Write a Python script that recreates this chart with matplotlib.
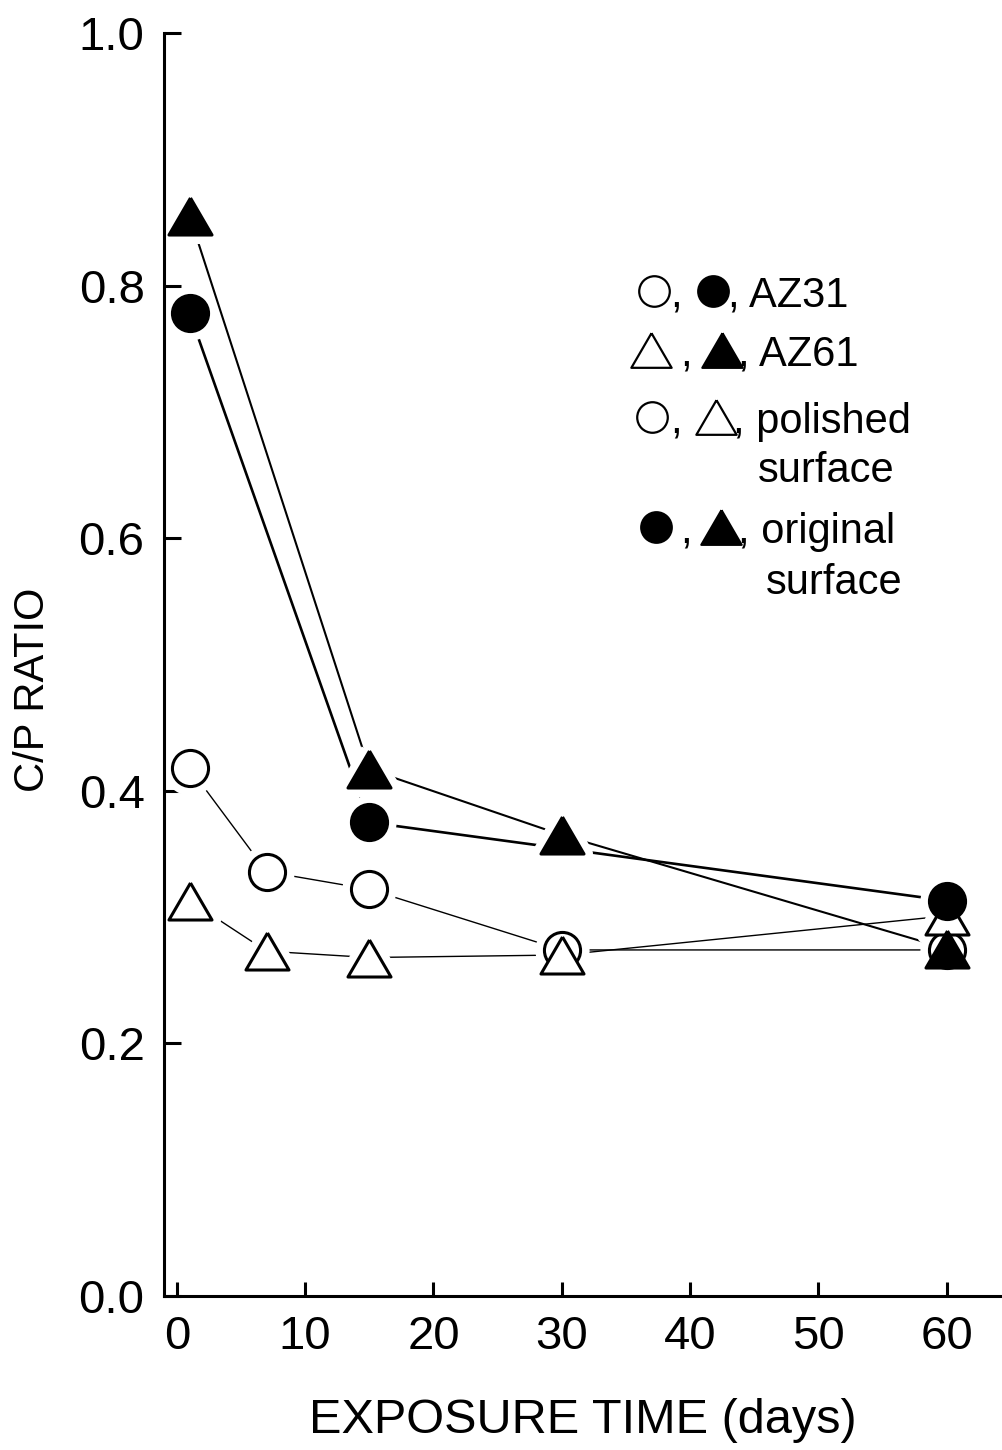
import matplotlib
matplotlib.use("Agg")
import matplotlib.pyplot as plt

plt.rcParams['font.family'] = ['Liberation Sans', 'DejaVu Sans']

# C/P ratio vs exposure time
days_pol_az31 = [1, 7, 15, 30, 60]
cp_pol_az31 = [0.418, 0.336, 0.322, 0.274, 0.274]

days_pol_az61 = [1, 7, 15, 30, 60]
cp_pol_az61 = [0.313, 0.273, 0.268, 0.270, 0.301]

days_org_az31 = [1, 15, 60]
cp_org_az31 = [0.778, 0.375, 0.313]

days_org_az61 = [1, 15, 30, 60]
cp_org_az61 = [0.855, 0.417, 0.365, 0.275]

xticks = [0, 10, 20, 30, 40, 50, 60]
yticks = [0.0, 0.2, 0.4, 0.6, 0.8, 1.0]

# wide triangle marker (width > height)
tri = [(0, 0.43), (-0.5, -0.43), (0.5, -0.43), (0, 0.43)]

fig = plt.figure(figsize=(10.02, 14.5), dpi=100)
ax = fig.add_axes([164 / 1002, 154 / 1450, 838 / 1002, 1263 / 1450])

series = [
    # x, y, marker, size, face, line width
    (days_pol_az31, cp_pol_az31, 'o', 26, 'white', 1.0),
    (days_pol_az61, cp_pol_az61, tri, 31, 'white', 1.0),
    (days_org_az31, cp_org_az31, 'o', 26, 'black', 1.9),
    (days_org_az61, cp_org_az61, tri, 31, 'black', 1.5),
]

for x, y, m, ms, fc, lw in series:
    ax.plot(x, y, '-', color='black', lw=lw, zorder=2)
for x, y, m, ms, fc, lw in series:
    # white halo so connecting lines stop short of the symbols
    ax.plot(x, y, ls='none', marker=m, ms=ms, mfc='white', mec='white',
            mew=13, zorder=2.1)
for i, (x, y, m, ms, fc, lw) in enumerate(series):
    ax.plot(x, y, ls='none', marker=m, ms=ms, mfc=fc, mec='black',
            mew=2.2, zorder=4 + i)

ax.set_xlim(-1.0, 64.3)
ax.set_ylim(0.0, 1.0)
ax.set_xticks(xticks)
ax.set_yticks(yticks)
ax.set_yticklabels([f"{v:.1f}" for v in yticks])
ax.tick_params(axis='both', direction='in', width=2.2, labelsize=34)
ax.tick_params(axis='y', length=12, pad=14)
ax.tick_params(axis='x', length=10, pad=14)
for s in ('top', 'right'):
    ax.spines[s].set_visible(False)
for s in ('left', 'bottom'):
    ax.spines[s].set_linewidth(2.2)
    ax.spines[s].set_zorder(2.5)

ax.set_xlabel('EXPOSURE TIME (days)', fontsize=35, labelpad=28)
ax.set_ylabel('C/P RATIO', fontsize=30)
ax.yaxis.set_label_coords(-0.132, 0.48)

# hand-built key
def px(x, y):
    return (x - 164) / 838, (1296 - y) / 1263

key_rows = [
    (291, [(654, 'o', 'white'), (713, 'o', 'black')], [(670, ','), (728, ', AZ31')]),
    (350, [(651, tri, 'white'), (722, tri, 'black')], [(680, ','), (738, ', AZ61')]),
    (417, [(652, 'o', 'white'), (716, tri, 'white')], [(670, ','), (733, ', polished')]),
    (527, [(656, 'o', 'black'), (721, tri, 'black')], [(680, ','), (738, ', original')]),
]
for yrow, marks, texts in key_rows:
    for xm, m, fc in marks:
        ms = 22 if m == 'o' else 29
        ax.plot(*px(xm, yrow), marker=m, ms=ms, mfc=fc, mec='black', mew=1.6,
                transform=ax.transAxes, clip_on=False, zorder=10)
    for xt, t in texts:
        ax.text(*px(xt, yrow), t, fontsize=30, ha='left', va='center_baseline',
                transform=ax.transAxes)
ax.text(*px(758, 467), 'surface', fontsize=30, ha='left', va='center_baseline',
        transform=ax.transAxes)
ax.text(*px(766, 578), 'surface', fontsize=30, ha='left', va='center_baseline',
        transform=ax.transAxes)

fig.savefig('out.png', dpi=100)
